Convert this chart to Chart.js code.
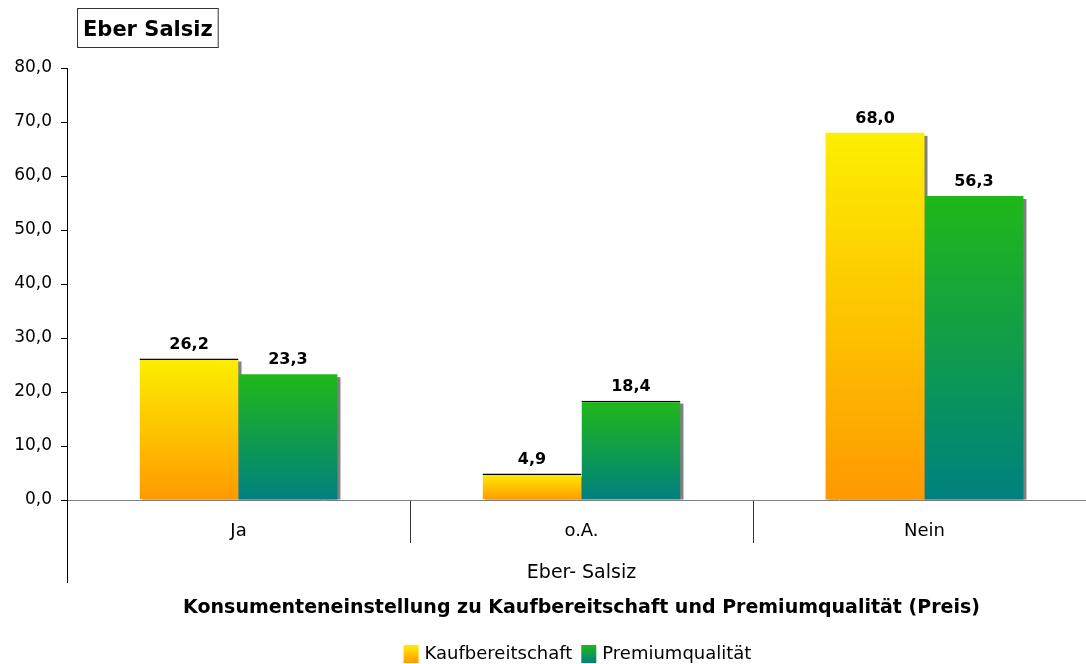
<!DOCTYPE html>
<html>
<head>
<meta charset="utf-8">
<script src="https://cdn.jsdelivr.net/npm/chart.js@4.4.1/dist/chart.umd.min.js"></script>
<style>
  html, body { margin: 0; padding: 0; background: #fff; overflow: hidden; }
  #wrap { width: 1100px; height: 664px; }
</style>
</head>
<body>
<div id="wrap"><canvas id="chart" width="1100" height="664"></canvas></div>
<script>
// data
const categories = ['Ja', 'o.A.', 'Nein'];
const kaufbereitschaft = [26.2, 4.9, 68.0];
const premiumqualitaet = [23.3, 18.4, 56.3];
const yTicks = [0, 10, 20, 30, 40, 50, 60, 70, 80];
const seriesNames = ['Kaufbereitschaft', 'Premiumqualität'];
const chartTitle = 'Eber Salsiz';
const groupLabel = 'Eber- Salsiz';
const axisTitle = 'Konsumenteneinstellung zu Kaufbereitschaft und Premiumqualität (Preis)';

const FONT = "'DejaVu Sans', Verdana, sans-serif";
const YELLOW = ['#FCEF00', '#FF9900'];
const GREEN = ['#20B818', '#008080'];
const fmt = v => v.toFixed(1).replace('.', ',');

// vertical gradient spanning each bar from its top to the zero line
function barGradient(stops) {
  return c => {
    if (c.type !== 'data') return stops[1];
    const y = c.chart.scales.y;
    const top = y.getPixelForValue(c.raw);
    const bottom = y.getPixelForValue(0);
    if (!isFinite(top) || !isFinite(bottom)) return stops[1];
    const g = c.chart.ctx.createLinearGradient(0, top, 0, bottom);
    g.addColorStop(0, stops[0]);
    g.addColorStop(1, stops[1]);
    return g;
  };
}

const TOP = { top: 1.5, right: 0, bottom: 0, left: 0 };

const shadowPlugin = {
  id: 'barShadow',
  beforeDatasetsDraw(chart) {
    const ctx = chart.ctx;
    ctx.save();
    ctx.fillStyle = '#808080';
    chart.data.datasets.forEach((ds, i) => {
      chart.getDatasetMeta(i).data.forEach(bar => {
        const { x, y, base, width } = bar.getProps(['x', 'y', 'base', 'width'], true);
        ctx.fillRect(x - width / 2 + 3, y + 3, width, base - y - 3);
      });
    });
    ctx.restore();
  }
};

const valueLabels = {
  id: 'valueLabels',
  afterDatasetsDraw(chart) {
    const ctx = chart.ctx;
    ctx.save();
    ctx.font = 'bold 16px ' + FONT;
    ctx.fillStyle = '#000';
    ctx.textAlign = 'center';
    ctx.textBaseline = 'alphabetic';
    chart.data.datasets.forEach((ds, i) => {
      chart.getDatasetMeta(i).data.forEach((bar, j) => {
        ctx.fillText(fmt(ds.data[j]), bar.x, bar.y - 10);
      });
    });
    ctx.restore();
  }
};

const decorations = {
  id: 'decorations',
  afterDraw(chart) {
    const ctx = chart.ctx;
    const area = chart.chartArea;
    const cx = (area.left + area.right) / 2;
    ctx.save();

    // title box
    ctx.font = 'bold 21px ' + FONT;
    const tw = ctx.measureText(chartTitle).width;
    ctx.strokeStyle = '#333';
    ctx.lineWidth = 1;
    ctx.strokeRect(77.5, 8.5, tw + 11, 39);
    ctx.fillStyle = '#000';
    ctx.textBaseline = 'alphabetic';
    ctx.textAlign = 'left';
    ctx.fillText(chartTitle, 83, 36);

    // y axis runs on down past the category labels
    const ax = Math.round(chart.scales.y.right - 0.5) + 0.5;
    ctx.strokeStyle = '#000';
    ctx.beginPath();
    ctx.moveTo(ax, area.bottom);
    ctx.lineTo(ax, 583);
    ctx.stroke();

    // group label and axis title
    ctx.textAlign = 'center';
    ctx.font = '19px ' + FONT;
    ctx.fillText(groupLabel, cx, 578);
    ctx.font = 'bold 19px ' + FONT;
    ctx.fillText(axisTitle, cx, 613);

    // legend
    ctx.font = '18px ' + FONT;
    const boxW = 15, boxH = 18, gap = 6, itemGap = 9;
    const widths = seriesNames.map(n => ctx.measureText(n).width);
    const total = widths.reduce((a, w) => a + boxW + gap + w, 0) + itemGap * (seriesNames.length - 1);
    let x = cx - 4 - total / 2;
    const by = 645;
    ctx.textAlign = 'left';
    seriesNames.forEach((name, i) => {
      const stops = i === 0 ? YELLOW : GREEN;
      const g = ctx.createLinearGradient(0, by, 0, by + boxH);
      g.addColorStop(0, stops[0]);
      g.addColorStop(1, stops[1]);
      ctx.fillStyle = g;
      ctx.fillRect(x, by, boxW, boxH);
      x += boxW + gap;
      ctx.fillStyle = '#000';
      ctx.fillText(name, x, 659);
      x += widths[i] + itemGap;
    });

    ctx.restore();
  }
};

new Chart(document.getElementById('chart').getContext('2d'), {
  type: 'bar',
  data: {
    labels: categories,
    datasets: [
      {
        label: seriesNames[0],
        data: kaufbereitschaft,
        backgroundColor: barGradient(YELLOW),
        borderColor: '#000',
        borderWidth: [TOP, TOP, 0],
        barPercentage: 1,
        categoryPercentage: 0.577,
      },
      {
        label: seriesNames[1],
        data: premiumqualitaet,
        backgroundColor: barGradient(GREEN),
        borderColor: '#000',
        borderWidth: [0, TOP, 0],
        barPercentage: 1,
        categoryPercentage: 0.577,
      },
    ],
  },
  options: {
    responsive: false,
    animation: false,
    devicePixelRatio: 1,
    layout: { padding: { top: 68, right: 4, left: 0, bottom: 0 } },
    plugins: {
      legend: { display: false },
      title: { display: false },
      tooltip: { enabled: false },
    },
    scales: {
      x: {
        z: 1,
        grid: { offset: true, drawOnChartArea: false, drawTicks: true, tickLength: 43, color: '#333', lineWidth: 1 },
        border: { color: '#808080', width: 1 },
        ticks: { font: { family: FONT, size: 18 }, color: '#000', padding: -22, maxRotation: 0 },
        afterFit: s => { s.height = 164; },
      },
      y: {
        min: 0,
        max: 80,
        afterBuildTicks: s => { s.ticks = yTicks.map(v => ({ value: v })); },
        grid: { drawOnChartArea: false, tickLength: 6, color: '#000' },
        border: { color: '#000' },
        ticks: { font: { family: FONT, size: 17 }, color: '#000', padding: 9, callback: v => fmt(v) },
        afterFit: s => { s.width = 67; },
      },
    },
  },
  plugins: [shadowPlugin, valueLabels, decorations],
});
</script>
</body>
</html>
